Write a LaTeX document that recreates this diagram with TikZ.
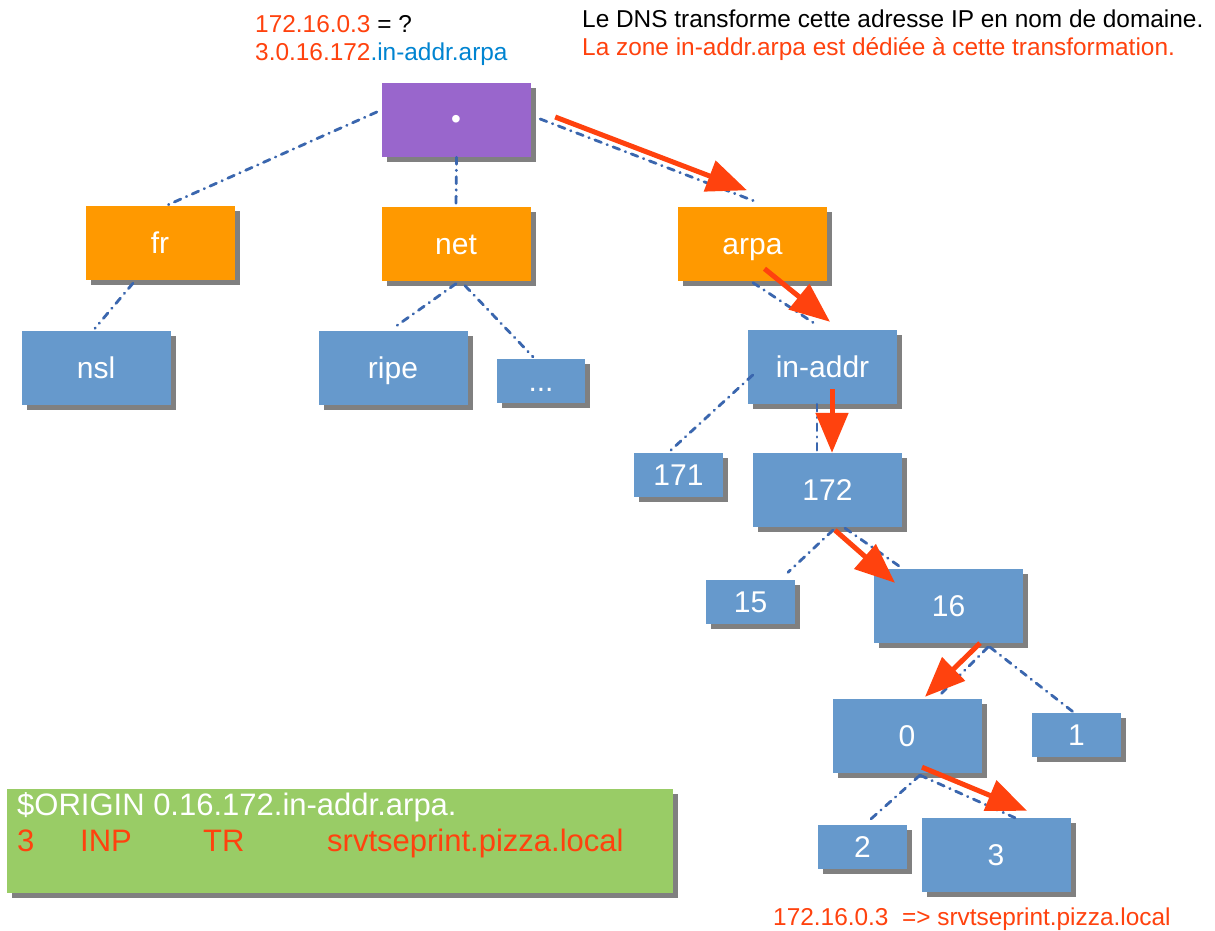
\documentclass[tikz,border=0pt]{standalone}
\usepackage{fontspec}
\setmainfont{Liberation Sans}
\usetikzlibrary{arrows.meta,shadows}

\definecolor{rootpurple}{HTML}{9966CC}
\definecolor{tldorange}{HTML}{FF9900}
\definecolor{zoneblue}{HTML}{6699CC}
\definecolor{notegreen}{HTML}{99CC66}
\definecolor{shadowgray}{HTML}{808080}
\definecolor{linkblue}{HTML}{3A66AE}
\definecolor{hotred}{HTML}{FF420E}
\definecolor{textblue}{HTML}{0084D1}

\tikzset{
  zbox/.style={rectangle, inner sep=0pt, text=white,
    font=\fontsize{30}{34}\selectfont, text height=21.5pt, text depth=0pt,
    drop shadow={shadow xshift=5pt, shadow yshift=-5pt, fill=shadowgray, opacity=1}},
  rootbox/.style={zbox, fill=rootpurple},
  tldbox/.style={zbox, fill=tldorange},
  leafbox/.style={zbox, fill=zoneblue},
  bigbox/.style={minimum width=149pt, minimum height=74pt},
  smallbox/.style={minimum width=89pt, minimum height=44pt},
  link/.style={draw=linkblue, line width=2.8pt, line cap=round,
    dash pattern=on 7pt off 6pt on 0.5pt off 6pt},
  hop/.style={draw=hotred, line width=5pt, -{Triangle[length=40pt,width=32pt]}},
  note/.style={inner sep=0pt, anchor=base west, font=\fontsize{24.4}{28}\selectfont},
  zonetext/.style={inner sep=0pt, anchor=base west, font=\fontsize{31}{36}\selectfont}
}

\begin{document}
\begin{tikzpicture}[x=1pt, y=-1pt]
\useasboundingbox (0,0) rectangle (1215,931);
\fill[white] (0,0) rectangle (1215,931);

% ---- tree nodes ----
\node[rootbox, bigbox] (root) at (456.5,120) {};
\node[tldbox, bigbox] (fr)   at (160,243)   {fr};
\node[tldbox, bigbox] (net)  at (456,243.5) {net};
\node[tldbox, bigbox] (arpa) at (752.5,243.5) {arpa};
\node[leafbox, bigbox] (nsl)  at (96,367.5)  {nsl};
\node[leafbox, bigbox] (ripe) at (393,367.5) {ripe};
\node[leafbox, minimum width=88pt, minimum height=44pt] (dots) at (541,381) {...};
\node[leafbox, bigbox] (inaddr) at (822.5,367) {in-addr};
\node[leafbox, smallbox] (n171) at (678.5,475) {171};
\node[leafbox, bigbox] (n172) at (827.5,490) {172};
\node[leafbox, smallbox] (n15) at (750.5,601.5) {15};
\node[leafbox, bigbox] (n16) at (948.5,606) {16};
\node[leafbox, bigbox] (n0) at (907,736) {0};
\node[leafbox, smallbox] (n1) at (1076.5,735) {1};
\node[leafbox, smallbox] (n2) at (862.5,847) {2};
\node[leafbox, bigbox] (n3) at (996,855) {3};

% root label: a white bullet
\node[inner sep=0pt, text=white, font=\fontsize{28}{32}\selectfont] (rootdot) at (456,122) {•};

% ---- dash-dot tree links ----
\draw[link] ([shift={(-5,-8)}]root.west) -- ([shift={(8,-1)}]fr.north);
\draw[link] (root.south) -- (net.north);
\draw[link] ([shift={(9,-1)}]root.east) -- ([shift={(2.5,-5)}]arpa.north);
\draw[link] ([shift={(-27,3)}]fr.south) -- ([shift={(-1,-2)}]nsl.north);
\draw[link] ([shift={(0,3)}]net.south) -- ([shift={(0,-2)}]ripe.north);
\draw[link] ([shift={(9,5)}]net.south) -- ([shift={(-8,-2)}]dots.north);
\draw[link] ([shift={(0.5,2)}]arpa.south) -- ([shift={(-4.5,-4)}]inaddr.north);
\draw[link] ([shift={(5,8)}]inaddr.west) -- ([shift={(-10.5,0)}]n171.north);
\draw[link] ([shift={(-5.5,0)}]inaddr.south) -- ([shift={(-10.5,-1)}]n172.north);
\draw[link] ([shift={(5.5,3)}]n172.south) -- ([shift={(37.5,-7)}]n15.north);
\draw[link] ([shift={(17.5,1)}]n172.south) -- ([shift={(-45.5,0)}]n16.north);
\draw[link] ([shift={(39.5,4)}]n16.south) -- ([shift={(31,-2)}]n0.north);
\draw[link] ([shift={(41.5,4)}]n16.south) -- ([shift={(-3.5,-1)}]n1.north);
\draw[link] ([shift={(13,2)}]n0.south) -- ([shift={(7.5,-5)}]n2.north);
\draw[link] ([shift={(13,2)}]n0.south) -- ([shift={(19,0)}]n3.north);

% ---- resolution path ----
\draw[hop] ([shift={(24,-3)}]root.east) -- ([shift={(-5.5,-16)}]arpa.north);
\draw[hop] ([shift={(12,-12)}]arpa.south) -- ([shift={(7.5,-8)}]inaddr.north);
\draw[hop] ([shift={(9.5,-15)}]inaddr.south) -- ([shift={(4.5,0)}]n172.north);
\draw[hop] ([shift={(7.5,3)}]n172.south) -- ([shift={(-53.5,14)}]n16.north);
\draw[hop] ([shift={(31.5,0)}]n16.south) -- ([shift={(18,-2)}]n0.north);
\draw[hop] ([shift={(15,-6)}]n0.south) -- ([shift={(31,-7)}]n3.north);

% ---- annotations ----
\node[note] (q1) at (255,33) {\textcolor{hotred}{172.16.0.3} = ?};
\node[note] (q2) at (255,61) {\textcolor{hotred}{3.0.16.172}\textcolor{textblue}{.in-addr.arpa}};
\node[note] (t1) at (582,28) {Le DNS transforme cette adresse IP en nom de domaine.};
\node[note, text=hotred] (t2) at (582,56) {La zone in-addr.arpa est dédiée à cette transformation.};
\node[note, text=hotred] (res) at (773,925) {172.16.0.3\ \ => srvtseprint.pizza.local};

% ---- zone file excerpt ----
\node[fill=notegreen, minimum width=666pt, minimum height=104pt, inner sep=0pt,
  drop shadow={shadow xshift=5pt, shadow yshift=-5pt, fill=shadowgray, opacity=1}]
  (zone) at (340,841) {};
\node[zonetext, text=white] (z1) at (17,815) {\$ORIGIN 0.16.172.in-addr.arpa.};
\node[zonetext, text=hotred] (z2a) at (17,851) {3};
\node[zonetext, text=hotred] (z2b) at (80,851) {INP};
\node[zonetext, text=hotred] (z2c) at (203,851) {TR};
\node[zonetext, text=hotred] (z2d) at (327,851) {srvtseprint.pizza.local};
\end{tikzpicture}
\end{document}
